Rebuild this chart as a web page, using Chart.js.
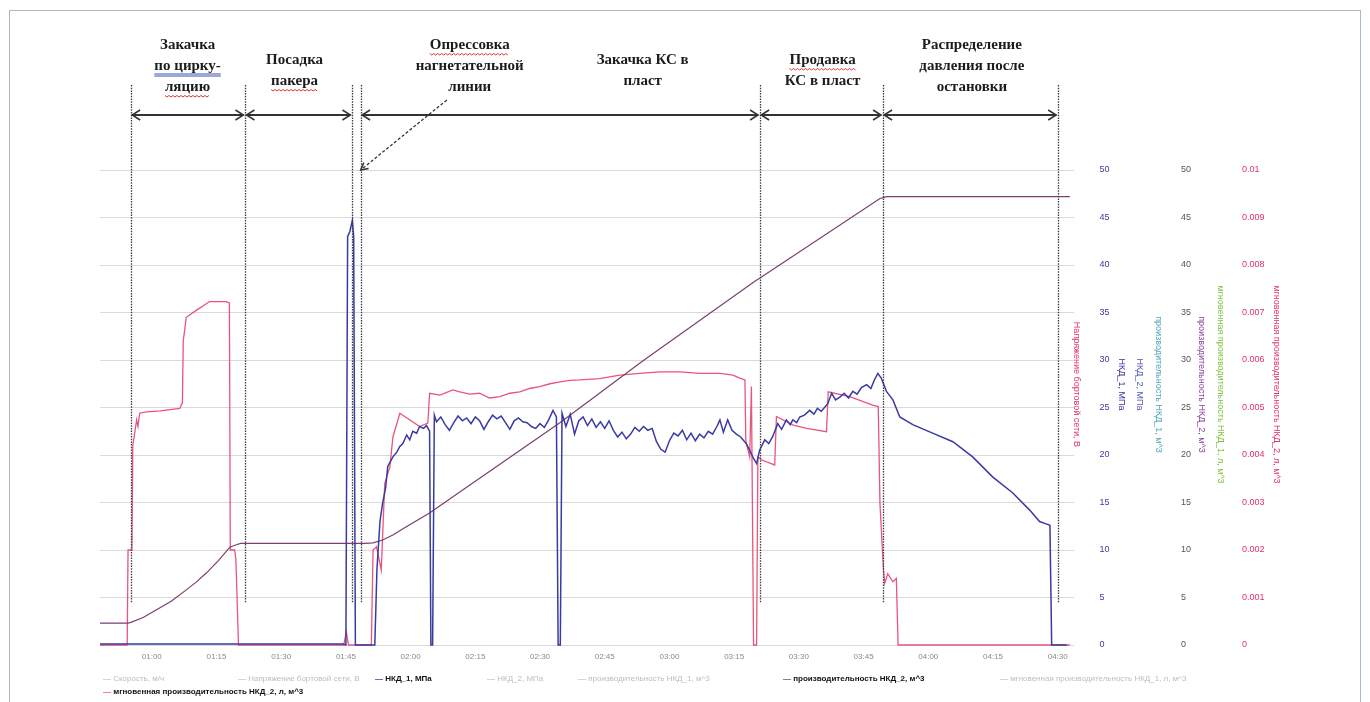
<!DOCTYPE html>
<html><head><meta charset="utf-8">
<script src="https://cdn.jsdelivr.net/npm/chart.js@4.4.1/dist/chart.umd.min.js"></script>
<style>
html,body{margin:0;padding:0;background:#fff;}
#wrap{position:relative;width:1370px;height:702px;overflow:hidden;}
#frame{position:absolute;left:9px;top:10px;width:1352px;height:700px;border:1.5px solid #aab9c9;box-sizing:border-box;}
canvas{position:absolute;left:0;top:0;}
#legend{position:absolute;left:0;top:0;width:1370px;height:702px;pointer-events:none;font-family:"Liberation Sans",Arial,sans-serif;font-size:8px;}
.li{position:absolute;white-space:nowrap;line-height:10px;}
.li b{font-weight:bold;}
</style></head>
<body><div id="wrap"><div id="frame"></div><canvas id="c" width="1370" height="702"></canvas><div id="legend"></div></div>
<script>
// ---------- DATA ----------
const timeTicks  = [60,75,90,105,120,135,150,165,180,195,210,225,240,255,270]; // minutes
const timeLabels = ['01:00','01:15','01:30','01:45','02:00','02:15','02:30','02:45','03:00','03:15','03:30','03:45','04:00','04:15','04:30'];
const pressTickValues = [0,5,10,15,20,25,30,35,40,45,50];
const pressTickLabels = ['0','5','10','15','20','25','30','35','40','45','50'];
const rateTickValues = [0,0.001,0.002,0.003,0.004,0.005,0.006,0.007,0.008,0.009,0.01];
const rateTickLabels = ['0','0.001','0.002','0.003','0.004','0.005','0.006','0.007','0.008','0.009','0.01'];

const seriesNames = ['Скорость, м/ч','Напряжение бортовой сети, В','НКД_1, МПа','НКД_2, МПа',
  'производительность НКД_1, м^3','производительность НКД_2, м^3',
  'мгновенная производительность НКД_1, л, м^3','мгновенная производительность НКД_2, л, м^3'];

// НКД_1, МПа  [minute, value]
const pressureNKD1 = [[48,0.1],[104.3,0.1],[105.0,0],[105.4,43],[105.9,43.5],[106.5,44.7],[106.8,43],[107.2,0],[111.7,0],
 [112.2,8],[112.9,13],[113.5,14.9],[114.2,16.5],[114.7,18.8],[115.9,19.8],[116.8,20.3],[117.5,20.9],[118.2,21.2],[119.1,22.1],
 [119.8,21.6],[120.5,22.5],[121.4,22.3],[122.1,23.0],[123.0,22.8],[123.7,23.1],[124.4,22.5],[124.7,0],[125.1,0],[125.5,24.2],
 [126,23.5],[127,24.0],[128,23.2],[129,22.6],[130,23.4],[131,24.1],[132,23.6],[133,23.9],[134,23.3],[135,24.0],[136,23.6],
 [137,22.7],[138,23.5],[139,24.2],[140,23.8],[141,24.1],[142,23.4],[143,22.7],[144,23.6],[145,23.9],[146,23.5],[147,23.4],
 [148,23.0],[149,22.8],[150,23.3],[151,22.9],[152,23.7],[153,24.7],[153.8,24.0],[154.2,0],[154.7,0],[155.1,24.4],
 [156,23.0],[157,24.3],[158,22.2],[159,23.6],[160,24.0],[161,23.1],[162,23.8],[163,22.9],[164,23.5],[165,22.8],[166,23.6],
 [167,22.6],[168,21.9],[169,22.4],[170,21.7],[171,22.2],[172,22.9],[173,22.5],[174,23.0],[175,22.6],[176,22.8],[177,21.4],
 [178,20.6],[179,20.3],[180,21.5],[181,22.3],[182,22.0],[183,22.6],[184,21.6],[185,22.3],[186,21.5],[187,22.2],[188,21.8],
 [189,22.5],[190,22.2],[191,23.0],[191.7,23.7],[192.5,22.4],[193.5,23.7],[194.5,22.6],[195.5,22.2],[196.5,21.9],[197.8,21.2],
 [198.5,20.6],[199.3,19.8],[200.2,19.1],[200.9,20.5],[202.1,21.6],[203,21.2],[203.9,21.9],[205.1,23.3],[206,22.7],[207.1,23.7],
 [208,23.2],[208.6,23.7],[209.5,23.4],[210.2,24.0],[211.3,24.2],[212.5,24.7],[213.5,24.3],[214.3,24.9],[215.2,24.6],[216.7,25.4],
 [217.6,26.5],[218.5,25.8],[219.5,26.1],[220.5,26.5],[221.5,26.0],[222.5,26.7],[223.5,26.4],[224.5,27.1],[225.7,27.4],[226.7,27.0],
 [227.5,27.9],[228.3,28.6],[229.1,28.1],[230.3,26.7],[231.8,25.8],[233.4,24.0],[236.4,23.2],[241.0,22.3],[245.7,21.4],[250.3,19.8],
 [254.9,17.7],[259.6,16.0],[263.5,14.2],[265.8,13.0],[267,12.8],[268.2,12.6],[268.6,0],[272.1,0]];

// производительность НКД_2, м^3
const volumeNKD2 = [[48,2.3],[54.4,2.3],[55.0,2.35],[58,2.9],[61.1,3.7],[64.5,4.6],[68.0,5.8],[70.5,6.7],[72.7,7.6],[75.5,8.9],
 [78.1,10.3],[79.6,10.55],[80.6,10.7],[109.4,10.7],[111.3,10.75],[113.5,11.05],[116,11.6],[119.0,12.45],[124.4,13.9],[131.4,16.1],
 [154.6,23.4],[173.8,29.9],[199.8,38.3],[200.9,38.6],[228.8,47.0],[230.4,47.2],[272.8,47.2]];

// мгновенная производительность НКД_2, л, м^3
const rateNKD2 = [[48,0],[54.3,0],[54.5,0.002],[55.4,0.002],[55.6,0.0042],[56.5,0.00474],[56.8,0.0046],[57.2,0.00488],[58.8,0.00491],
 [62,0.00493],[66.5,0.00498],[67.1,0.0051],[67.3,0.0064],[68.0,0.0069],[70.4,0.00705],[73.4,0.00723],[77.3,0.00723],[78.0,0.0072],
 [78.2,0.002],[79.2,0.002],[79.5,0.0018],[80.1,0],[104.5,0],[105.1,0.00028],[105.6,0],[110.9,0],[111.3,0.002],[112.1,0.00207],
 [112.7,0.0018],[113.2,0.00158],[114.0,0.0034],[115.2,0.00375],[115.9,0.00438],[117.5,0.00488],[122.1,0.0046],[124.0,0.00467],
 [124.4,0.0053],[126.8,0.00526],[129.8,0.00537],[131.4,0.00533],[133.7,0.00528],[136.0,0.0053],[138.3,0.0052],[140.7,0.00523],
 [143.0,0.0053],[145.3,0.00533],[147.6,0.0054],[149.9,0.00544],[152.3,0.0055],[154.6,0.00554],[156.9,0.00557],[159.2,0.00558],
 [163.8,0.00561],[168.5,0.00568],[173.1,0.00572],[177.8,0.00575],[182.4,0.00575],[187.0,0.00572],[191.7,0.00572],[194.7,0.00568],
 [196.3,0.00562],[197.5,0.00558],[197.7,0.0043],[198.6,0.00396],[199.0,0.00544],[199.5,0],[200.2,0],[200.5,0.00396],[201.3,0.0039],
 [204.4,0.00379],[204.8,0.00481],[208.7,0.00463],[211.8,0.00456],[216.4,0.00449],[216.8,0.00533],[221.8,0.00523],[227.1,0.00505],
 [228.4,0.00502],[228.8,0.00298],[229.6,0.0016],[229.9,0.0013],[230.6,0.0015],[231.8,0.00133],[232.6,0.0014],[233.0,0],[272.8,0]];

// phase annotation (minutes)
const phaseBounds = [55.1, 81.6, 106.4, 108.4, 200.9, 229.4, 270.0];
const phaseArrows = [[55.1,81.6],[81.6,106.4],[108.4,200.9],[200.9,229.4],[229.4,270.0]];
const phaseLabels = [
  {t:68.3,  lines:['Закачка','по цирку-','ляцию']},
  {t:93.1,  lines:['Посадка','пакера']},
  {t:133.7, lines:['Опрессовка','нагнетательной','линии']},
  {t:173.8, lines:['Закачка КС в','пласт']},
  {t:215.5, lines:['Продавка','КС в пласт']},
  {t:250.1, lines:['Распределение','давления после','остановки']}
];
const pointerArrow = {from:128.4, to:108.2};

// ---------- STYLE / LAYOUT ----------
const underlines = {'0-1':'#3a4fb0','0-2':'#e03030','1-1':'#e03030','2-0':'#e03030','4-0':'#e03030'};
const legendSlots = [[103,674],[238,674],[375,674],[487,674],[578,674],[783,674],[1000,674],[103,687]];
const C_BLUE='#3a3aa4', C_PURP='#7a3f6f', C_RED='#e8557e';
const TITLE_SHIFT = 23; // right-axis titles sit above the axis middle

const toXY = arr => arr.map(p => ({x:p[0], y:p[1]}));

const datasets = [
  {label:seriesNames[0], data:[], hidden:true, yAxisID:'yVolt', borderColor:'#999'},
  {label:seriesNames[1], data:[], hidden:true, yAxisID:'yVolt', borderColor:'#999'},
  {label:seriesNames[2], data:toXY(pressureNKD1), yAxisID:'yP1', borderColor:C_BLUE, borderWidth:1.5},
  {label:seriesNames[3], data:[], hidden:true, yAxisID:'yP2', borderColor:'#999'},
  {label:seriesNames[4], data:[], hidden:true, yAxisID:'yQ1', borderColor:'#999'},
  {label:seriesNames[5], data:toXY(volumeNKD2), yAxisID:'yQ2', borderColor:C_PURP, borderWidth:1.2},
  {label:seriesNames[6], data:[], hidden:true, yAxisID:'yR1', borderColor:'#999'},
  {label:seriesNames[7], data:toXY(rateNKD2), yAxisID:'yR2', borderColor:C_RED, borderWidth:1.3}
];

function sideAxis(w, title, color, extra) {
  return Object.assign({
    position:'right', display:true, min:0, max:50,
    grid:{display:false, drawTicks:false}, border:{display:false},
    ticks:{display:false},
    title:{display:true, text:title, color:color, font:{family:'Liberation Sans', size:9}, padding:0},
    afterFit: s => { s.width = w; }
  }, extra || {});
}
const setTicks = vals => s => { s.ticks = vals.map(v => ({value:v})); };

// move only the title band of the right axes (tick pixels are already configured)
const titleShiftPlugin = {
  id:'titleShift',
  afterLayout(chart){
    Object.values(chart.scales).forEach(s => {
      if (s.options.position === 'right') { s.top -= TITLE_SHIFT; s.bottom -= TITLE_SHIFT; }
    });
  }
};

const phasePlugin = {
  id:'phases',
  afterDatasetsDraw(chart){
    const ctx = chart.ctx, xs = chart.scales.x;
    const px = t => xs.getPixelForValue(t);
    ctx.save();
    ctx.strokeStyle = '#3c3c3c'; ctx.lineWidth = 1.3; ctx.setLineDash([1.5,1.2]);
    phaseBounds.forEach(t => { const x = Math.round(px(t)) + 0.5; ctx.beginPath(); ctx.moveTo(x,85); ctx.lineTo(x,603); ctx.stroke(); });
    ctx.setLineDash([]);
    const Y = 115;
    phaseArrows.forEach(([a,b]) => {
      const x1 = px(a) + 1.5, x2 = px(b) - 1.5;
      ctx.strokeStyle = '#333'; ctx.lineWidth = 2;
      ctx.beginPath(); ctx.moveTo(x1,Y); ctx.lineTo(x2,Y); ctx.stroke();
      ctx.lineWidth = 1.5;
      ctx.beginPath(); ctx.moveTo(x1+8,Y-5); ctx.lineTo(x1,Y); ctx.lineTo(x1+8,Y+5); ctx.stroke();
      ctx.beginPath(); ctx.moveTo(x2-8,Y-5); ctx.lineTo(x2,Y); ctx.lineTo(x2-8,Y+5); ctx.stroke();
    });
    const sx = px(pointerArrow.from), sy = 100, ex = px(pointerArrow.to) + 1, ey = 170;
    ctx.strokeStyle = '#333'; ctx.lineWidth = 1.3; ctx.setLineDash([3,2]);
    ctx.beginPath(); ctx.moveTo(sx,sy); ctx.lineTo(ex,ey); ctx.stroke();
    ctx.setLineDash([]);
    const ang = Math.atan2(ey-sy, ex-sx);
    ctx.lineWidth = 1.5;
    ctx.beginPath();
    ctx.moveTo(ex - 8*Math.cos(ang-0.5), ey - 8*Math.sin(ang-0.5));
    ctx.lineTo(ex, ey);
    ctx.lineTo(ex - 8*Math.cos(ang+0.5), ey - 8*Math.sin(ang+0.5));
    ctx.stroke();
    ctx.font = 'bold 15px "Liberation Serif"';
    ctx.textAlign = 'center'; ctx.textBaseline = 'middle'; ctx.fillStyle = '#1c1c1c';
    phaseLabels.forEach((lab, i) => {
      const cx = px(lab.t);
      const y0 = 45 + (3 - lab.lines.length) * 15;
      lab.lines.forEach((ln, j) => {
        const y = y0 + j*21;
        ctx.fillText(ln, cx, y);
        const col = underlines[i + '-' + j];
        if (col) {
          const w = ctx.measureText(ln).width;
          ctx.strokeStyle = col; ctx.lineWidth = 1;
          if (col === '#3a4fb0') {
            ctx.beginPath(); ctx.moveTo(cx-w/2, y+8); ctx.lineTo(cx+w/2, y+8);
            ctx.moveTo(cx-w/2, y+10); ctx.lineTo(cx+w/2, y+10); ctx.stroke();
          } else {
            ctx.beginPath();
            for (let k = 0, xx = cx-w/2; xx <= cx+w/2; xx += 2, k++) {
              const yy = y + 9 + (k % 2 ? 1 : -0.5);
              if (k === 0) ctx.moveTo(xx, yy); else ctx.lineTo(xx, yy);
            }
            ctx.stroke();
          }
        }
      });
    });
    ctx.restore();
  }
};

new Chart(document.getElementById('c'), {
  type:'line',
  data:{datasets},
  options:{
    responsive:false, animation:false,
    layout:{padding:{left:100, right:88, top:170, bottom:37}},
    datasets:{line:{clip:false}},
    elements:{point:{radius:0}, line:{tension:0, borderWidth:1.2}},
    plugins:{legend:{display:false}, tooltip:{enabled:false}},
    scales:{
      x:{type:'linear', min:48, max:272.85,
         afterBuildTicks: setTicks(timeTicks),
         ticks:{autoSkip:false, maxRotation:0, padding:7, color:'#8a8a8a', font:{family:'Liberation Sans', size:8},
                callback:(v,i) => timeLabels[i]},
         grid:{display:false, drawTicks:false}, border:{display:false},
         afterFit: s => { s.height = 20; }},
      yVolt: sideAxis(12, seriesNames[1], '#e0306a', {
         afterBuildTicks: setTicks(pressTickValues),
         grid:{display:true, color:'#dadada', lineWidth:1, drawTicks:true, tickLength:4, tickColor:'#dadada'}}),
      yP1: sideAxis(45, seriesNames[2], '#34349e', {
         afterBuildTicks: setTicks(pressTickValues),
         ticks:{display:true, padding:17.5, color:'#3a3aa4', font:{family:'Liberation Sans', size:9}, callback:(v,i)=>pressTickLabels[i]}}),
      yP2: sideAxis(18, seriesNames[3], '#5555b5'),
      yQ1: sideAxis(19, seriesNames[4], '#4aa3b8'),
      yQ2: sideAxis(43, seriesNames[5], '#8a3d9e', {
         afterBuildTicks: setTicks(pressTickValues),
         ticks:{display:true, padding:17, color:'#555', font:{family:'Liberation Sans', size:9}, callback:(v,i)=>pressTickLabels[i]}}),
      yR1: sideAxis(19, seriesNames[6], '#7cc43a'),
      yR2: sideAxis(56, seriesNames[7], '#e0306a', {
         min:0, max:0.01,
         afterBuildTicks: setTicks(rateTickValues),
         ticks:{display:true, padding:16, color:'#e0306a', font:{family:'Liberation Sans', size:9}, callback:(v,i)=>rateTickLabels[i]}})
    }
  },
  plugins:[titleShiftPlugin, phasePlugin]
});

// HTML legend
const lg = document.getElementById('legend');
datasets.forEach((d, i) => {
  const el = document.createElement('div');
  el.className = 'li';
  el.style.left = legendSlots[i][0] + 'px';
  el.style.top = legendSlots[i][1] + 'px';
  const active = !d.hidden;
  el.style.color = active ? '#111' : '#bdbdbd';
  const mark = '<span style="color:' + (active ? d.borderColor : '#c8c8c8') + ';font-weight:bold">—</span> ';
  el.innerHTML = mark + (active ? '<b>' + d.label + '</b>' : d.label);
  lg.appendChild(el);
});
</script></body></html>
